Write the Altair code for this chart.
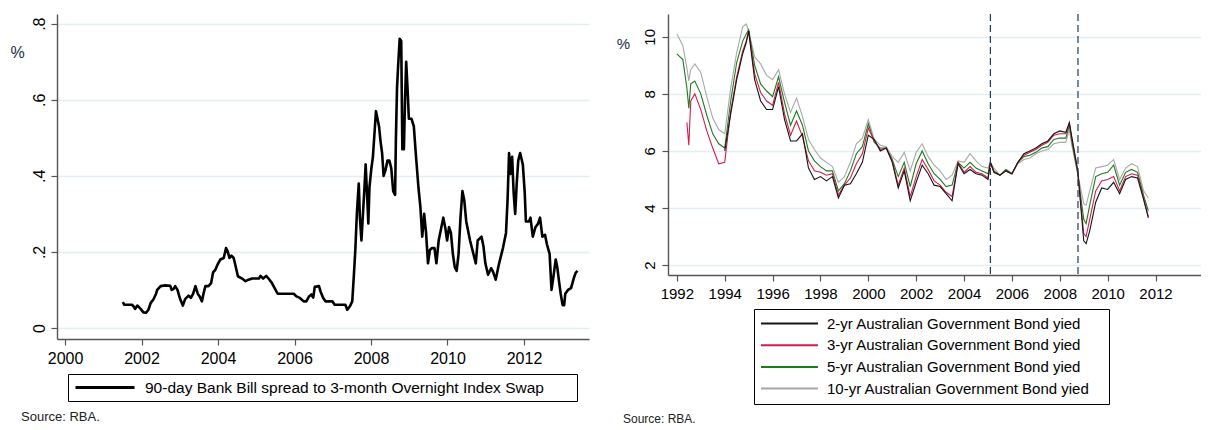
import altair as alt
import pandas as pd

FONT = "Liberation Sans"

# ---------------- left panel data ----------------
spread_label = "90-day Bank Bill spread to 3-month Overnight Index Swap"
spread_years = [
    2001.51, 2001.55, 2001.75, 2001.79, 2001.83, 2001.89, 2001.97, 2002.05, 2002.12, 2002.18,
    2002.24, 2002.31, 2002.38, 2002.41, 2002.5, 2002.62, 2002.75, 2002.79, 2002.84, 2002.88,
    2002.94, 2003.01, 2003.08, 2003.14, 2003.23, 2003.29, 2003.35, 2003.41, 2003.47, 2003.52,
    2003.58, 2003.62, 2003.67, 2003.75, 2003.82, 2003.87, 2003.93, 2003.99, 2004.06, 2004.15,
    2004.21, 2004.25, 2004.3, 2004.35, 2004.41, 2004.45, 2004.52, 2004.63, 2004.72, 2004.8,
    2004.89, 2005.07, 2005.11, 2005.18, 2005.26, 2005.32, 2005.41, 2005.48, 2005.56, 2005.72,
    2005.98, 2006.05, 2006.14, 2006.24, 2006.31, 2006.38, 2006.44, 2006.49, 2006.53, 2006.64,
    2006.68, 2006.75, 2006.81, 2006.99, 2007.05, 2007.2, 2007.33, 2007.38, 2007.45, 2007.51,
    2007.55, 2007.59, 2007.63, 2007.68, 2007.71, 2007.75, 2007.79, 2007.83, 2007.86, 2007.9,
    2007.93, 2007.96, 2008.01, 2008.05, 2008.09, 2008.13, 2008.17, 2008.21, 2008.25, 2008.29,
    2008.33, 2008.38, 2008.43, 2008.48, 2008.53, 2008.58, 2008.63, 2008.65, 2008.68, 2008.71,
    2008.75, 2008.79, 2008.82, 2008.86, 2008.89, 2008.92, 2008.96, 2008.99, 2009.06, 2009.12,
    2009.17, 2009.24, 2009.29, 2009.34, 2009.39, 2009.44, 2009.49, 2009.54, 2009.59, 2009.66,
    2009.71, 2009.77, 2009.84, 2009.89, 2009.94, 2009.99, 2010.04, 2010.09, 2010.14, 2010.19,
    2010.24, 2010.29, 2010.34, 2010.39, 2010.44, 2010.49, 2010.59, 2010.69, 2010.74, 2010.79,
    2010.89, 2010.94, 2010.99, 2011.06, 2011.14, 2011.19, 2011.26, 2011.35, 2011.45, 2011.53,
    2011.57, 2011.61, 2011.65, 2011.69, 2011.73, 2011.77, 2011.81, 2011.85, 2011.9, 2011.97,
    2012.02, 2012.05, 2012.13, 2012.17, 2012.23, 2012.3, 2012.37, 2012.42, 2012.48, 2012.55,
    2012.6, 2012.67, 2012.72, 2012.77, 2012.83, 2012.87, 2012.92, 2012.96, 2013.01, 2013.05,
    2013.08, 2013.15, 2013.23, 2013.3, 2013.35, 2013.4,
]
spread_vals = [
    0.068, 0.061, 0.061, 0.057, 0.05, 0.059, 0.051, 0.041, 0.04, 0.048,
    0.066, 0.075, 0.09, 0.10, 0.11, 0.112, 0.111, 0.10, 0.103, 0.11,
    0.10, 0.076, 0.059, 0.076, 0.085, 0.079, 0.09, 0.11, 0.09, 0.083,
    0.07, 0.09, 0.11, 0.11, 0.118, 0.146, 0.153, 0.167, 0.18, 0.184,
    0.21, 0.202, 0.184, 0.19, 0.184, 0.167, 0.136, 0.13, 0.123, 0.127,
    0.13, 0.13, 0.137, 0.13, 0.137, 0.13, 0.118, 0.105, 0.09, 0.09,
    0.09, 0.083, 0.079, 0.07, 0.07, 0.083, 0.088, 0.08, 0.108, 0.11,
    0.096, 0.079, 0.07, 0.07, 0.061, 0.061, 0.061, 0.048, 0.057, 0.07,
    0.135, 0.205, 0.30, 0.38, 0.29, 0.23, 0.30, 0.37, 0.43, 0.345,
    0.275, 0.37, 0.42, 0.45, 0.51, 0.57, 0.55, 0.53, 0.49, 0.46,
    0.40, 0.415, 0.44, 0.44, 0.42, 0.36, 0.35, 0.49, 0.63, 0.69,
    0.76, 0.755, 0.47, 0.47, 0.60, 0.70, 0.62, 0.55, 0.55, 0.53,
    0.46, 0.37, 0.32, 0.24, 0.30, 0.25, 0.17, 0.205, 0.21, 0.21,
    0.17, 0.23, 0.265, 0.29, 0.265, 0.23, 0.265, 0.25, 0.195, 0.16,
    0.15, 0.195, 0.29, 0.36, 0.335, 0.28, 0.23, 0.19, 0.17, 0.23,
    0.24, 0.215, 0.17, 0.14, 0.157, 0.148, 0.127, 0.17, 0.21, 0.25,
    0.335, 0.46, 0.405, 0.45, 0.355, 0.30, 0.38, 0.44, 0.46, 0.43,
    0.355, 0.28, 0.28, 0.29, 0.24, 0.265, 0.275, 0.29, 0.24, 0.245,
    0.22, 0.195, 0.10, 0.135, 0.18, 0.16, 0.12, 0.09, 0.06, 0.06,
    0.09, 0.10, 0.105, 0.13, 0.145, 0.15,
]
left_x_ticks = [2000, 2002, 2004, 2006, 2008, 2010, 2012]
left_y_ticks = [0, 0.2, 0.4, 0.6, 0.8]

# ---------------- right panel data ----------------
bond_labels = [
    "2-yr Australian Government Bond yied",
    "3-yr Australian Government Bond yied",
    "5-yr Australian Government Bond yied",
    "10-yr Australian Government Bond yied",
]
bond_colors = ["#151515", "#d41c4c", "#1e7a1e", "#a8a8a8"]
bond_years = [
    1992.0, 1992.25, 1992.42, 1992.5, 1992.58, 1992.75, 1993.0, 1993.25, 1993.5, 1993.75,
    1994.0, 1994.25, 1994.5, 1994.75, 1994.9, 1995.0, 1995.25, 1995.5, 1995.75, 1996.0,
    1996.25, 1996.5, 1996.75, 1997.0, 1997.25, 1997.5, 1997.75, 1998.0, 1998.25, 1998.5,
    1998.75, 1999.0, 1999.25, 1999.5, 1999.75, 2000.0, 2000.25, 2000.5, 2000.75, 2001.0,
    2001.25, 2001.5, 2001.75, 2002.0, 2002.25, 2002.5, 2002.75, 2003.0, 2003.25, 2003.5,
    2003.75, 2004.0, 2004.25, 2004.5, 2004.75, 2005.0, 2005.1, 2005.25, 2005.5, 2005.75,
    2006.0, 2006.25, 2006.5, 2006.75, 2007.0, 2007.25, 2007.5, 2007.75, 2008.0, 2008.25,
    2008.4, 2008.5, 2008.75, 2009.0, 2009.1, 2009.25, 2009.5, 2009.75, 2010.0, 2010.25,
    2010.5, 2010.75, 2011.0, 2011.25, 2011.5, 2011.7,
]
yield_10 = [
    10.1, 9.7, 8.9, 8.45, 8.85, 9.05, 8.75, 7.9, 7.15, 6.75,
    6.6, 8.2, 9.45, 10.35, 10.45, 10.2, 9.3, 9.05, 8.65, 8.5,
    8.85, 8.0, 7.35, 7.85, 7.2, 6.4, 6.05, 5.75, 5.6, 5.45,
    4.9, 5.1, 5.6, 6.25, 6.45, 7.1, 6.4, 6.2, 6.15, 5.8,
    5.6, 5.95, 5.3, 5.95, 6.25, 5.8, 5.5, 5.3, 5.0, 5.15,
    5.65, 5.6, 5.9, 5.65, 5.45, 5.4, 5.6, 5.4, 5.15, 5.35,
    5.2, 5.55, 5.7, 5.75, 5.9, 6.0, 6.05, 6.25, 6.3, 6.3,
    6.75, 6.2, 5.2, 4.15, 4.1, 4.6, 5.4, 5.45, 5.5, 5.7,
    5.0, 5.4, 5.55, 5.45, 4.6, 4.35,
]
yield_5 = [
    9.4, 9.2, 8.2, 7.5, 8.35, 8.45, 8.0, 7.25, 6.6, 6.25,
    6.1, 7.75, 9.1, 9.85, 10.1, 10.25, 9.0, 8.35, 8.1, 7.9,
    8.6, 7.7, 6.9, 7.4, 6.9, 6.0, 5.65, 5.45, 5.3, 5.3,
    4.6, 4.85, 5.3, 5.9, 6.15, 6.95, 6.3, 6.1, 6.1, 5.7,
    5.1, 5.6, 4.75, 5.55, 6.0, 5.55, 5.2, 5.0, 4.75, 4.8,
    5.6, 5.4, 5.6, 5.4, 5.3, 5.2, 5.6, 5.3, 5.15, 5.35,
    5.2, 5.6, 5.8, 5.85, 5.95, 6.1, 6.15, 6.4, 6.45, 6.45,
    6.9, 6.35, 5.2, 3.6, 3.45, 4.1, 5.1, 5.2, 5.25, 5.5,
    4.8, 5.25, 5.35, 5.25, 4.45, 3.9,
]
yield_3 = [
    None, None, 7.0, 6.2, 7.75, 8.0, 7.45, 6.7, 6.1, 5.55,
    5.6, 7.4, 8.6, 9.5, 9.85, 10.2, 8.7, 8.05, 7.75, 7.6,
    8.4, 7.3, 6.55, 7.05, 6.5, 5.65, 5.3, 5.25, 5.15, 5.2,
    4.45, 4.8, 5.05, 5.55, 5.9, 6.8, 6.35, 6.05, 6.1, 5.65,
    4.8, 5.4, 4.4, 5.1, 5.7, 5.35, 4.95, 4.8, 4.55, 4.4,
    5.6, 5.25, 5.45, 5.25, 5.2, 5.05, 5.6, 5.25, 5.15, 5.3,
    5.2, 5.6, 5.85, 5.95, 6.05, 6.2, 6.3, 6.55, 6.6, 6.6,
    6.95, 6.45, 5.3, 3.1, 3.0, 3.6, 4.6, 4.95, 5.0, 5.1,
    4.6, 5.1, 5.2, 5.15, 4.35, 3.7,
]
yield_2 = [
    None, None, None, None, None, None, None, None, None, None,
    6.0, 7.3, 8.5, 9.4, 9.8, 10.2, 8.5, 7.75, 7.45, 7.45,
    8.25, 7.1, 6.35, 6.35, 6.6, 5.4, 5.0, 5.1, 4.95, 5.1,
    4.35, 4.8, 4.85, 5.2, 5.6, 6.55, 6.4, 6.0, 6.1, 5.6,
    4.7, 5.3, 4.25, 4.9, 5.5, 5.2, 4.8, 4.75, 4.5, 4.25,
    5.55, 5.2, 5.35, 5.2, 5.15, 5.0, 5.6, 5.25, 5.15, 5.3,
    5.2, 5.6, 5.9, 6.0, 6.1, 6.25, 6.35, 6.6, 6.7, 6.65,
    7.0, 6.5, 5.3, 2.85, 2.75, 3.2, 4.2, 4.7, 4.65, 4.9,
    4.5, 5.0, 5.1, 5.05, 4.3, 3.65,
]
break_years = [2005.1, 2008.76]
right_x_ticks = [1992, 1994, 1996, 1998, 2000, 2002, 2004, 2006, 2008, 2010, 2012]
right_y_ticks = [2, 4, 6, 8, 10]
source_text = "Source: RBA."

# ---------------- tables ----------------
left_df = pd.DataFrame({"year": spread_years, "value": spread_vals, "series": spread_label})

rows = []
# draw order: 10-yr under, 2-yr on top
for label, vals in [(bond_labels[3], yield_10), (bond_labels[2], yield_5),
                    (bond_labels[1], yield_3), (bond_labels[0], yield_2)]:
    for yr, v in zip(bond_years, vals):
        if v is not None:
            rows.append({"year": yr, "value": v, "series": label})
right_df = pd.DataFrame(rows)
break_df = pd.DataFrame({"year": break_years})

AX = dict(domainColor="#555555", tickColor="#555555", domainWidth=1.4, tickWidth=1.2,
          labelFont=FONT, labelColor="#000000", labelFlush=False, labelOverlap=False,
          titleFont=FONT, titleFontWeight="normal", titleColor="#1c2b48")

# ---------------- left chart ----------------
left_line = alt.Chart(left_df).mark_line(strokeWidth=2.6, strokeJoin="round").encode(
    x=alt.X("year:Q", scale=alt.Scale(domain=[1999.79, 2013.7], nice=False, zero=False),
            axis=alt.Axis(values=left_x_ticks, format="d", title=None, grid=False,
                          labelFontSize=16, tickSize=6, labelPadding=5, **AX)),
    y=alt.Y("value:Q", scale=alt.Scale(domain=[-0.029, 0.8255], nice=False, zero=False),
            axis=alt.Axis(values=left_y_ticks,
                          labelExpr="datum.value == 0 ? '0' : '.' + format(datum.value * 10, '.0f')",
                          title="%", titleAngle=0, titleX=-40, titleY=38, titleAlign="center",
                          titleBaseline="middle", titleFontSize=16,
                          labelAngle=270, labelAlign="center", labelBaseline="alphabetic",
                          labelFontSize=16, labelPadding=7, tickSize=6,
                          grid=True, gridColor="#e4edf0", gridWidth=1.3, **AX)),
    color=alt.Color("series:N", scale=alt.Scale(domain=[spread_label], range=["#000000"]),
                    legend=alt.Legend(title=" ", titleOrient="right", titlePadding=28, titleFontSize=1,
                                      orient="none", legendX=11, legendY=360,
                                      symbolType="stroke", symbolSize=3481, symbolStrokeWidth=3,
                                      clipHeight=17, padding=5, strokeColor="#000000",
                                      fillColor="#ffffff", labelFont=FONT, labelFontSize=15.5,
                                      labelColor="#000000", labelOffset=9, symbolOffset=1,
                                      labelLimit=600)),
)
left_src = alt.Chart(alt.Data(values=[{"t": source_text}])).mark_text(
    align="left", baseline="middle", fontSize=13, font=FONT, color="#222222"
).encode(text="t:N", x=alt.value(-36), y=alt.value(403))

left = alt.layer(left_line, left_src).properties(width=532, height=325)

# ---------------- right chart ----------------
right_lines = alt.Chart(right_df).mark_line(strokeWidth=1.1).encode(
    x=alt.X("year:Q", scale=alt.Scale(domain=[1991.63, 2013.9], nice=False, zero=False),
            axis=alt.Axis(values=right_x_ticks, format="d", title=None, grid=False,
                          labelFontSize=15, tickSize=6, labelPadding=5, **AX)),
    y=alt.Y("value:Q", scale=alt.Scale(domain=[1.65, 10.8], nice=False, zero=False),
            axis=alt.Axis(values=right_y_ticks, format="d",
                          title="%", titleAngle=0, titleX=-45, titleY=29, titleAlign="center",
                          titleBaseline="middle", titleFontSize=15,
                          labelAngle=270, labelAlign="center", labelBaseline="alphabetic",
                          labelFontSize=15, labelPadding=8, tickSize=6,
                          grid=True, gridColor="#e4edf0", gridWidth=1.3, **AX)),
    color=alt.Color("series:N", scale=alt.Scale(domain=bond_labels, range=bond_colors),
                    legend=alt.Legend(title=" ", titleOrient="right", titlePadding=15, titleFontSize=1,
                                      orient="none", legendX=86, legendY=295,
                                      symbolType="stroke", symbolSize=3249, symbolStrokeWidth=2,
                                      clipHeight=20, rowPadding=1.7, padding=4.5,
                                      strokeColor="#000000", fillColor="#ffffff",
                                      labelFont=FONT, labelFontSize=15, labelColor="#000000",
                                      labelOffset=8, symbolOffset=1.5, labelLimit=600)),
)
right_breaks = alt.Chart(break_df).mark_rule(strokeDash=[7, 4], color="#1f3b5c", strokeWidth=1.2).encode(
    x="year:Q"
)
right_src = alt.Chart(alt.Data(values=[{"t": source_text}])).mark_text(
    align="left", baseline="middle", fontSize=12, font=FONT, color="#222222"
).encode(text="t:N", x=alt.value(-45), y=alt.value(405))

right = alt.layer(right_lines, right_breaks, right_src).properties(width=533, height=261)

chart = alt.hconcat(left, right, spacing=27).resolve_scale(
    color="independent", x="independent", y="independent"
).properties(
    padding={"left": 1, "top": 5, "right": 0, "bottom": 0},
    background="#ffffff",
).configure_view(strokeWidth=0)

chart.save("out.html", embed_options={"renderer": "svg", "actions": False})
